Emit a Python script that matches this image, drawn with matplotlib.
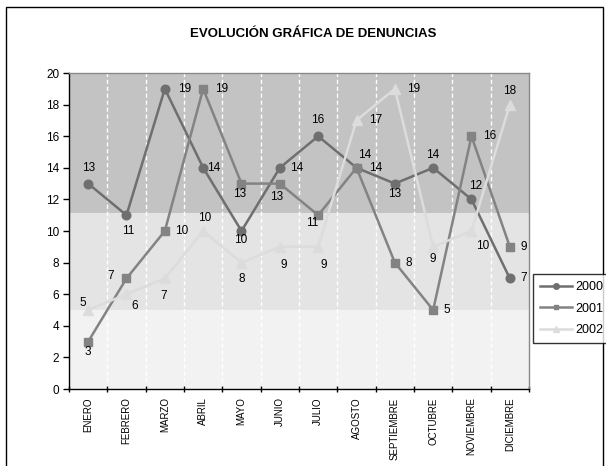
import matplotlib
matplotlib.use("Agg")
import matplotlib.pyplot as plt
from matplotlib.patches import Rectangle
from matplotlib.lines import Line2D

plt.rcParams['font.family'] = ['Liberation Sans', 'DejaVu Sans']

# --- data -------------------------------------------------------------
months = ["ENERO", "FEBRERO", "MARZO", "ABRIL", "MAYO", "JUNIO", "JULIO",
          "AGOSTO", "SEPTIEMBRE", "OCTUBRE", "NOVIEMBRE", "DICIEMBRE"]
series_names = ["2000", "2001", "2002"]
y2000 = [13, 11, 19, 14, 10, 14, 16, 14, 13, 14, 12, 7]
y2001 = [3, 7, 10, 19, 13, 13, 11, 14, 8, 5, 16, 9]
y2002 = [5, 6, 7, 10, 8, 9, 9, 17, 19, 9, 10, 18]
yticks = list(range(0, 21, 2))
title = "EVOLUCIÓN GRÁFICA DE DENUNCIAS"

# --- label placement (pixel offsets from each point: dx right, dy up) -
off2000 = [(0, 16), (2, -16), (20, 0), (11, 0), (-1, -9), (17, 0),
           (0, 16), (8, 13), (0, -10), (0, 13), (4, 13), (14, 0)]
off2001 = [(0, -10), (-16, 2), (17, 0), (18, 0), (-2, -10), (-3, -13),
           (-6, -8), (19, 0), (14, 0), (14, 0), (18, 0), (14, 0)]
off2002 = [(-5, 7), (8, -12), (-1, -18), (2, 13), (0, -16), (4, -18),
           (6, -18), (19, 0), (19, 0), (0, -12), (11, -15), (0, 14)]

W, H, DPI = 606, 466, 100
fig = plt.figure(figsize=(W / DPI, H / DPI), dpi=DPI)
fig.patch.set_facecolor("white")

# outer chart frame
fig.patches.append(Rectangle((6 / W, -0.05), 597 / W, 1.05 - 7 / H,
                             transform=fig.transFigure, fill=False,
                             edgecolor="black", linewidth=1.0))

left, right, top, bottom = 69, 529, 73, 389
ax = fig.add_axes([left / W, 1 - bottom / H, (right - left) / W, (bottom - top) / H])

n = len(months)
x = list(range(n))
ax.set_xlim(-0.5, n - 0.5)
ax.set_ylim(0, 20)

# background bands
ax.axhspan(0, 5, color="#f2f2f2", zorder=0, lw=0)
ax.axhspan(5, 11.15, color="#e4e4e4", zorder=0, lw=0)
ax.axhspan(11.15, 20, color="#c3c3c3", zorder=0, lw=0)

# dashed separators between months
for k in range(1, n):
    ax.axvline(k - 0.5, color="white", ls=(0, (3, 2)), lw=1.0, zorder=1)

styles = [
    dict(color="#6f6f6f", marker="o", ms=6.2),
    dict(color="#838383", marker="s", ms=5.2),
    dict(color="#dcdcdc", marker="^", ms=7.5),
]
data = [y2000, y2001, y2002]
offs = [off2000, off2001, off2002]
for vals, st, off in zip(data, styles, offs):
    ax.plot(x, vals, color=st["color"], lw=1.8, marker=st["marker"],
            ms=st["ms"], mfc=st["color"], mec=st["color"], zorder=3)
    for xi, v, (dx, dy) in zip(x, vals, off):
        ax.annotate(str(v), (xi, v), xytext=(dx, dy), textcoords="offset pixels",
                    ha="center", va="center", fontsize=8.5, color="black", zorder=4)

# axes styling
ax.set_yticks(yticks)
ax.set_yticklabels([str(t) for t in yticks], fontsize=8.5)
ax.set_xticks([k - 0.5 for k in range(n + 1)])
ax.set_xticklabels([])
ax.set_xticks(x, minor=True)
ax.set_xticklabels(months, minor=True, rotation=90, fontsize=7, va="top")
ax.tick_params(axis="x", which="minor", length=0, pad=6)
ax.tick_params(axis="x", which="major", length=4, direction="inout", width=1)
ax.tick_params(axis="y", length=4, direction="out", width=1, pad=3)
for s in ("left", "bottom"):
    ax.spines[s].set_color("black")
    ax.spines[s].set_linewidth(1.0)
for s in ("top", "right"):
    ax.spines[s].set_color("#8a8a8a")
    ax.spines[s].set_linewidth(1.0)

fig.text(313 / W, 1 - 34 / H, title, ha="center", va="center",
         fontsize=9.5, fontweight="bold")

# legend
handles = [Line2D([0], [0], color=st["color"], lw=1.8, marker=st["marker"],
                  ms=st["ms"] * 0.65, mfc=st["color"], mec=st["color"])
           for st in styles]
leg = fig.legend(handles, series_names, loc="upper left",
                 bbox_to_anchor=(533 / W, 1 - 274 / H), frameon=True,
                 fancybox=False, edgecolor="black", fontsize=9,
                 handlelength=2.6, handletextpad=0.2, labelspacing=0.78,
                 borderpad=0.55, borderaxespad=0)
leg.get_frame().set_linewidth(1.0)

fig.savefig("out.png", dpi=DPI)
